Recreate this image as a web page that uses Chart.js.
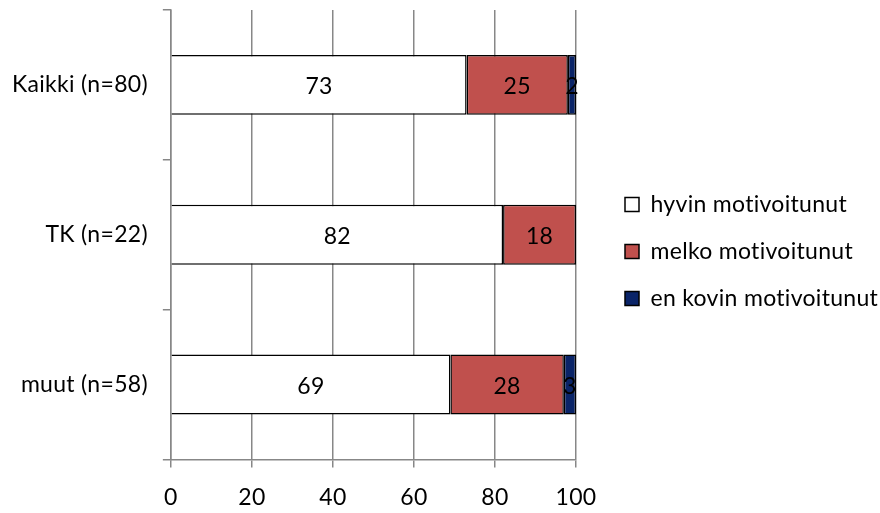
<!DOCTYPE html>
<html>
<head>
<meta charset="utf-8">
<script src="https://cdn.jsdelivr.net/npm/chart.js@4.4.1/dist/chart.umd.min.js"></script>
<style>
  html, body { margin: 0; padding: 0; background: #ffffff; }
  #wrap { width: 880px; height: 513px; position: relative; }
</style>
</head>
<body>
<div id="wrap"><canvas id="c"></canvas></div>
<script>
const categories = ["Kaikki (n=80)", "TK (n=22)", "muut (n=58)"];
const seriesNames = ["hyvin motivoitunut", "melko motivoitunut", "en kovin motivoitunut"];
const hyvin = [73, 82, 69];
const melko = [25, 18, 28];
const enKovin = [2, 0, 3];
const xTicks = [0, 20, 40, 60, 80, 100];

const FONT = "Lato, 'Open Sans', sans-serif";
const FS = 23;

const valueLabels = {
  id: 'valueLabels',
  afterDatasetsDraw(chart) {
    const ctx = chart.ctx;
    ctx.save();
    ctx.font = FS + "px " + FONT;
    ctx.fillStyle = "#000";
    ctx.textAlign = "center";
    ctx.textBaseline = "middle";
    chart.data.datasets.forEach((ds, di) => {
      const meta = chart.getDatasetMeta(di);
      meta.data.forEach((el, i) => {
        const v = ds.data[i];
        if (!v) return;
        const cx = (el.x + el.base) / 2;
        ctx.fillText(String(v), cx, el.y + 2);
      });
    });
    ctx.restore();
  }
};

const legendPlacer = {
  id: 'legendPlacer',
  beforeInit(chart) {
    chart.ctx.letterSpacing = '0.3px';
  },
  beforeLayout(chart) {
    const lg = chart.legend;
    if (lg && !lg._patched) {
      const orig = lg.fit.bind(lg);
      lg.fit = function () { orig(); this.width = 304; };
      lg._patched = true;
    }
  },
  afterLayout(chart) {
    const lg = chart.legend;
    if (!lg) return;
    const dx = 25, dy = -12;
    lg.left += dx; lg.right += dx;
    lg.top += dy; lg.bottom += dy;
  },
  beforeDraw(chart) {
    chart.ctx.letterSpacing = '0.3px';
  }
};

new Chart(document.getElementById('c'), {
  type: 'bar',
  data: {
    labels: categories,
    datasets: [
      { label: seriesNames[0], data: hyvin, backgroundColor: '#ffffff', borderSkipped: 'start' },
      { label: seriesNames[1], data: melko, backgroundColor: '#C0504D' },
      { label: seriesNames[2], data: enKovin, backgroundColor: '#0A2468' }
    ]
  },
  options: {
    indexAxis: 'y',
    responsive: true,
    maintainAspectRatio: false,
    animation: false,
    devicePixelRatio: 1,
    layout: { padding: { top: 0, left: 1, right: 0, bottom: -14 } },
    datasets: {
      bar: {
        borderColor: '#000000',
        borderWidth: 1.5,
        borderSkipped: false,
        categoryPercentage: 1.0,
        barPercentage: 0.4
      }
    },
    scales: {
      x: {
        stacked: true,
        min: 0,
        max: 100,
        afterBuildTicks(scale) { scale.ticks = xTicks.map(v => ({ value: v })); },
        border: { display: true, color: '#878787', width: 1.5 },
        grid: { color: '#878787', lineWidth: 1.5, drawTicks: true, tickLength: 8 },
        ticks: { color: '#000', font: { family: FONT, size: FS }, padding: 16 }
      },
      y: {
        stacked: true,
        z: 1,
        afterFit(scale) { scale.paddingTop = 10; scale.paddingBottom = 0; },
        border: { display: true, color: '#878787', width: 1.5 },
        grid: { offset: true, drawOnChartArea: false, drawTicks: true, tickLength: 8, color: '#878787', lineWidth: 1.5 },
        ticks: { color: '#000', font: { family: FONT, size: FS }, padding: 15 }
      }
    },
    plugins: {
      legend: {
        position: 'right',
        align: 'center',
        labels: {
          color: '#000',
          font: { family: FONT, size: FS },
          boxWidth: 14,
          boxHeight: 14,
          padding: 24
        }
      },
      tooltip: { enabled: false }
    }
  },
  plugins: [legendPlacer, valueLabels]
});
</script>
</body>
</html>
